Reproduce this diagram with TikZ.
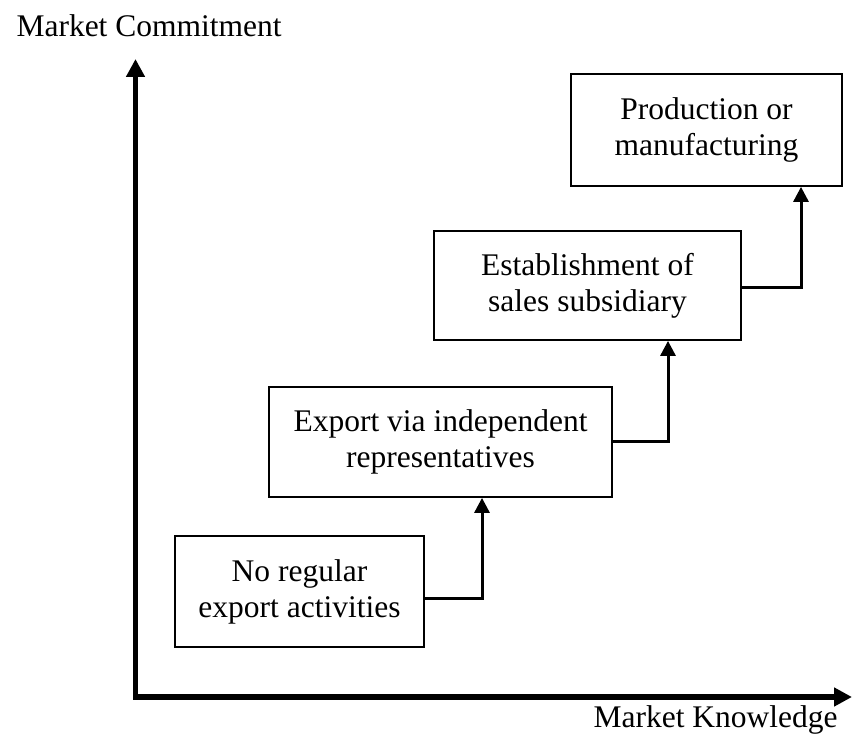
\documentclass[tikz,border=0pt]{standalone}
\usepackage{fontspec}
\setmainfont{Liberation Serif}
\usetikzlibrary{arrows.meta}

\begin{document}
\begin{tikzpicture}[x=1pt, y=1pt, font=\fontsize{31.5}{36}\selectfont,
        stage/.style={draw, line width=1.8pt, inner sep=0pt, align=center},
        link/.style={line width=3pt, -{Triangle[length=15pt, width=15pt]}}]
        \useasboundingbox (0,0) rectangle (853,733);
        \draw[line width=5.5pt, {Triangle[length=18pt, width=18pt]}-{Triangle[length=18pt, width=18pt]}]
            (135.5,674) -- (135.5,36) -- (852,36);
        \node[anchor=base west] (commit) at (13,696) {Market Commitment};
        \node[anchor=base west] (know) at (590,6) {Market Knowledge};

        \node[stage, minimum width=249, minimum height=111] (noreg) at (299.5,141.5) {No regular\\export activities};
        \node[stage, minimum width=343, minimum height=110] (export) at (440.5,291) {Export via independent\\representatives};
        \node[stage, minimum width=307, minimum height=109] (sales) at (587.5,447.5) {Establishment of\\sales subsidiary};
        \node[stage, minimum width=271, minimum height=112] (prod) at (706.5,603) {Production or\\manufacturing};

        \draw[link] ([yshift=-7.5]noreg.east) -| ([xshift=41.5]export.south);
        \draw[link] (export.east) -| ([xshift=80.5]sales.south);
        \draw[link] ([yshift=-2.5]sales.east) -| ([xshift=94.5]prod.south);
    \end{tikzpicture}
\end{document}
